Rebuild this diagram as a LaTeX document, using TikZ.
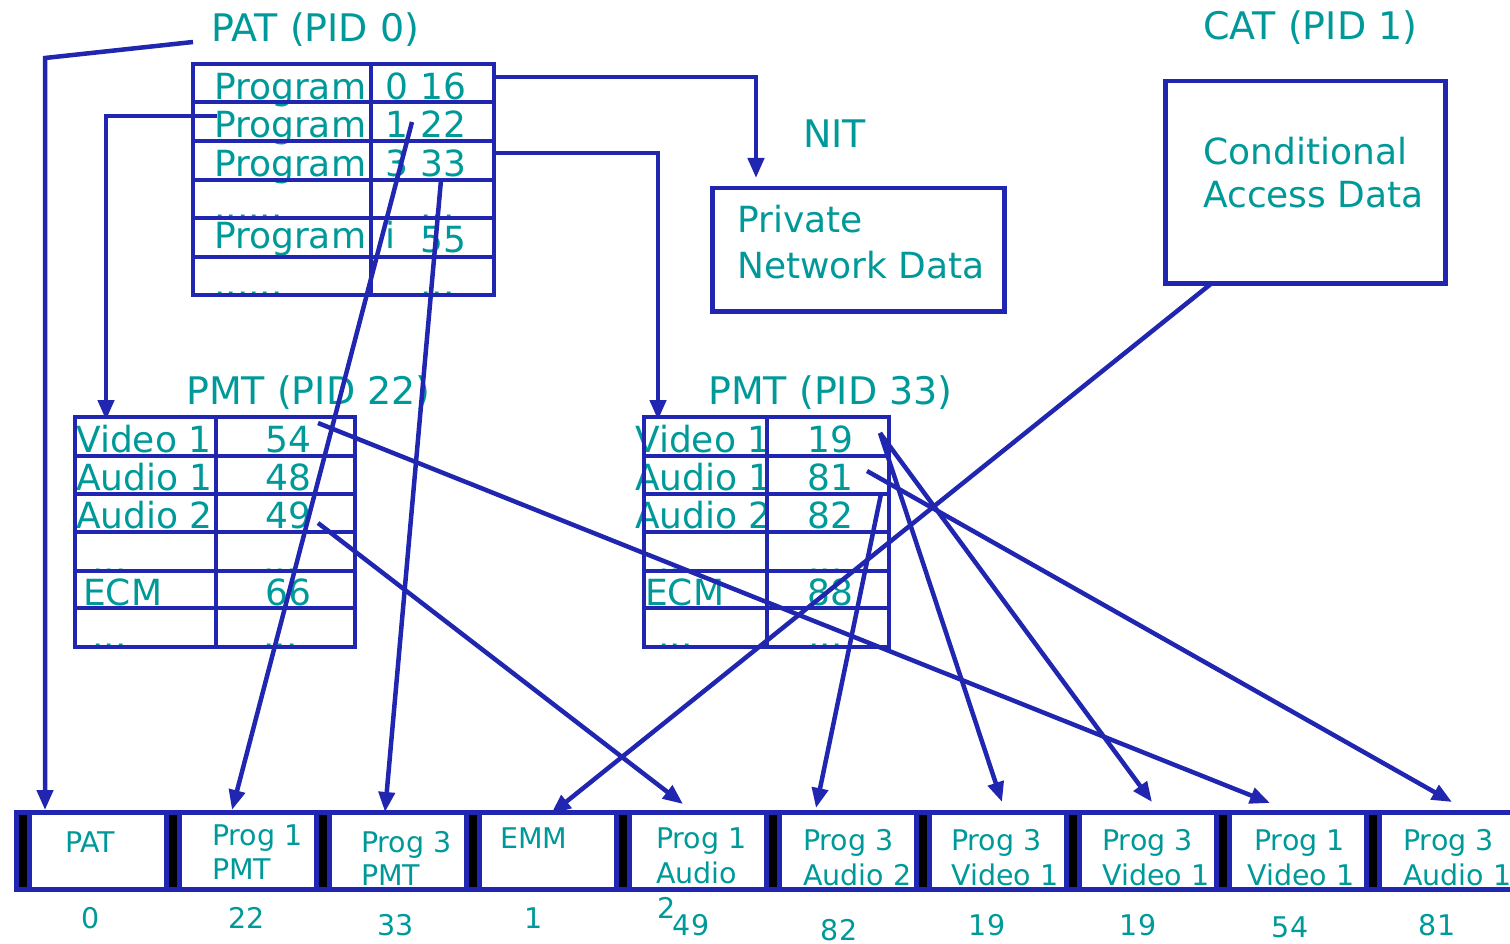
\documentclass[tikz,border=0pt]{standalone}
\usepackage{fontspec}
\setmainfont{DejaVu Sans}
\usetikzlibrary{arrows.meta}
\definecolor{blu}{RGB}{32,38,176}
\definecolor{tl}{RGB}{0,153,153}
\begin{document}
\begin{tikzpicture}[x=1pt,y=-1pt,
  ln/.style={draw=blu,line width=4.5pt},
  arr/.style={ln,-{Triangle[length=20pt,width=16pt]}},
  tx/.style={text=tl,inner sep=0pt,anchor=base west,font=\fontsize{36}{40}\selectfont},
  ttl/.style={tx,font=\fontsize{38}{44}\selectfont},
  sm/.style={tx,font=\fontsize{28.5}{32}\selectfont},
  smc/.style={sm,anchor=base},
  boxn/.style={draw=blu,line width=4.5pt,anchor=north west,inner sep=0pt}
]
\useasboundingbox (0,0) rectangle (1510,944);
\clip (0,0) rectangle (1510,944);

% ---------- titles ----------
\node[ttl] (patT) at (211,42) {PAT (PID 0)};
\node[ttl] (catT) at (1203,40) {CAT (PID 1)};
\node[ttl] (nitT) at (803,148) {NIT};
\node[ttl] (pmt22T) at (186,404) {PMT (PID 22)};
\node[ttl] (pmt33T) at (708,404) {PMT (PID 33)};

% ---------- PAT table text ----------
\node[tx] (pa1) at (214,100) {Program};
\node[tx] (pb1) at (385,100) {0};
\node[tx] (pc1) at (420,100) {16};
\node[tx] (pa2) at (214,138) {Program};
\node[tx] (pb2) at (385,138) {1};
\node[tx] (pc2) at (420,138) {22};
\node[tx] (pa3) at (214,177) {Program};
\node[tx] (pb3) at (385,177) {3};
\node[tx] (pc3) at (420,177) {33};
\node[tx] (pa4) at (214,220) {......};
\node[tx] (pc4) at (420,220) {...};
\node[tx] (pa5) at (214,248) {Program};
\node[tx] (pb5) at (385,248) {i};
\node[tx] (pc5) at (420,252) {55};
\node[tx] (pa6) at (214,296) {......};
\node[tx] (pc6) at (420,296) {...};

% ---------- PMT 22 text ----------
\node[tx] (qa1) at (76,452) {Video 1};
\node[tx] (qb1) at (265,452) {54};
\node[tx] (qa2) at (76,490) {Audio 1};
\node[tx] (qb2) at (265,490) {48};
\node[tx] (qa3) at (76,528) {Audio 2};
\node[tx] (qb3) at (265,528) {49};
\node[tx] (qa4) at (92,573) {...};
\node[tx] (qb4) at (263,573) {...};
\node[tx] (qa5) at (83,605) {ECM};
\node[tx] (qb5) at (265,605) {66};
\node[tx] (qa6) at (92,648) {...};
\node[tx] (qb6) at (263,648) {...};

% ---------- PMT 33 text ----------
\node[tx] (ra1) at (635,452) {Video 1};
\node[tx] (rb1) at (807,452) {19};
\node[tx] (ra2) at (635,490) {Audio 1};
\node[tx] (rb2) at (807,490) {81};
\node[tx] (ra3) at (635,528) {Audio 2};
\node[tx] (rb3) at (807,528) {82};
\node[tx] (ra4) at (658,573) {...};
\node[tx] (rb4) at (808,573) {...};
\node[tx] (ra5) at (645,605) {ECM};
\node[tx] (rb5) at (807,605) {88};
\node[tx] (ra6) at (658,648) {...};
\node[tx] (rb6) at (808,648) {...};

% ---------- table grids ----------
\draw[ln] (193,64) rectangle (494,295);
\draw[ln] (371,64) -- (371,295);
\foreach \yy in {102,141,180,218,257} \draw[ln] (193,\yy) -- (494,\yy);

\draw[ln] (75,417) rectangle (355,647);
\draw[ln] (216,417) -- (216,647);
\foreach \yy in {456,494,532,571,608} \draw[ln] (75,\yy) -- (355,\yy);

\draw[ln] (644,417) rectangle (889,647);
\draw[ln] (767,417) -- (767,647);
\foreach \yy in {456,494,532,571,608} \draw[ln] (644,\yy) -- (889,\yy);

% ---------- NIT and CAT boxes ----------
\node[boxn,minimum width=292pt,minimum height=123pt] (nitbox) at (710,186) {};
\node[tx] (nit1) at (737,233) {Private};
\node[tx] (nit2) at (737,278) {Network Data};
\node[boxn,minimum width=280pt,minimum height=202pt] (catbox) at (1163,79) {};
\node[tx] (cat1) at (1203,165) {Conditional};
\node[tx] (cat2) at (1203,208) {Access Data};

% ---------- transport stream packets ----------
\node[sm] (k1a) at (65,852) {PAT};
\node[sm] (k2a) at (212,845) {Prog 1};
\node[sm] (k2b) at (212,879) {PMT};
\node[sm] (k3a) at (361,852) {Prog 3};
\node[sm] (k3b) at (361,885) {PMT};
\node[sm] (k4a) at (500,848) {EMM};
\node[sm] (k5a) at (656,848) {Prog 1};
\node[sm] (k5b) at (656,883) {Audio};
\node[sm] (k5c) at (657,918) {2};
\node[sm] (k6a) at (803,850) {Prog 3};
\node[sm] (k6b) at (803,885) {Audio 2};
\node[sm] (k7a) at (951,850) {Prog 3};
\node[sm] (k7b) at (951,885) {Video 1};
\node[sm] (k8a) at (1102,850) {Prog 3};
\node[sm] (k8b) at (1102,885) {Video 1};
\node[sm] (k9a) at (1254,850) {Prog 1};
\node[sm] (k9b) at (1247,885) {Video 1};
\node[sm] (k10a) at (1403,850) {Prog 3};
\node[sm] (k10b) at (1403,885) {Audio 1};

\node[smc] (n1) at (91,928) {0};
\node[smc] (n2) at (247,928) {22};
\node[smc] (n3) at (396,935) {33};
\node[smc] (n4) at (534,928) {1};
\node[smc] (n5) at (691,935) {49};
\node[smc] (n6) at (839,940) {82};
\node[smc] (n7) at (987,935) {19};
\node[smc] (n8) at (1138,935) {19};
\node[smc] (n9) at (1290,937) {54};
\node[smc] (n10) at (1437,935) {81};

\draw[draw=blu,line width=5pt] (14,812.5) -- (1512,812.5);
\draw[draw=blu,line width=5pt] (14,889.5) -- (1512,889.5);
\foreach \i in {0,...,9}{
  \pgfmathsetmacro{\xo}{14+150*\i}
  \fill[black] (\xo+5,815) rectangle (\xo+13,887);
  \draw[draw=blu,line width=5pt] (\xo+2.5,812.5) -- (\xo+2.5,889.5);
  \draw[draw=blu,line width=5pt] (\xo+15.5,812.5) -- (\xo+15.5,889.5);
}

% ---------- connector end points ----------
\coordinate (patS) at (193,42);
\coordinate (patK) at (45,58);
\coordinate (tPAT) at (45,810);
\coordinate (nitS) at (494,77);
\coordinate (nitK) at (756,77);
\coordinate (tNIT) at (756,178);
\coordinate (p1S) at (217,116);
\coordinate (p1K) at (106,116);
\coordinate (tP22) at (106,420);
\coordinate (p3S) at (494,153);
\coordinate (p3K) at (658,153);
\coordinate (tP33) at (658,420);
\coordinate (s22) at (412,122);
\coordinate (t22) at (232,810);
\coordinate (s33) at (441,180);
\coordinate (t33) at (385,812);
\coordinate (s54) at (318,423);
\coordinate (t54) at (1270,803);
\coordinate (s49) at (318,523);
\coordinate (t49) at (683,804);
\coordinate (s19) at (880,433);
\coordinate (t19a) at (1002,802);
\coordinate (t19b) at (1152,802);
\coordinate (s81) at (867,471);
\coordinate (t81) at (1452,802);
\coordinate (s82) at (881,494);
\coordinate (t82) at (816,808);
\coordinate (sCAT) at (1212,283);
\coordinate (tEMM) at (551,814);

\draw[arr] (patS) -- (patK) -- (tPAT);
\draw[arr] (nitS) -- (nitK) -- (tNIT);
\draw[arr] (p1S) -- (p1K) -- (tP22);
\draw[arr] (p3S) -- (p3K) -- (tP33);
\draw[arr] (s22) -- (t22);
\draw[arr] (s33) -- (t33);
\draw[arr] (s54) -- (t54);
\draw[arr] (s49) -- (t49);
\draw[arr] (s19) -- (t19a);
\draw[arr] (s19) -- (t19b);
\draw[arr] (s81) -- (t81);
\draw[arr] (s82) -- (t82);
\draw[arr] (sCAT) -- (tEMM);
\end{tikzpicture}
\end{document}
